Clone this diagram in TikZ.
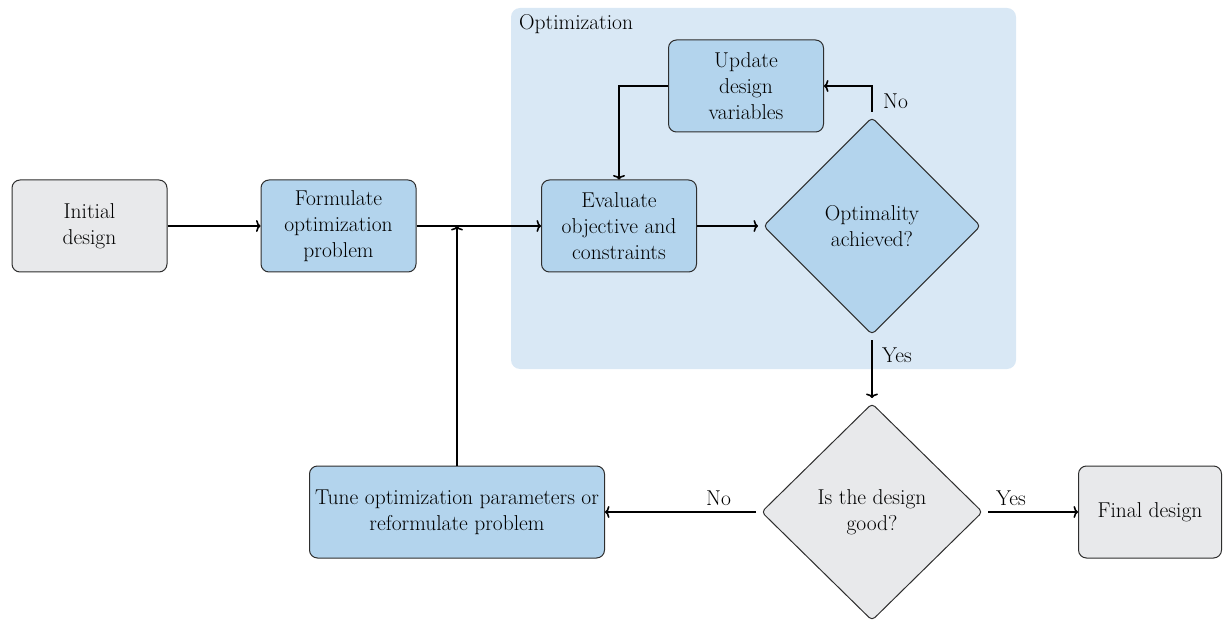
\documentclass[tikz,border=0pt]{standalone}
\usetikzlibrary{shapes.geometric,arrows.meta}

\definecolor{boxgray}{HTML}{E8E9EB}
\definecolor{boxblue}{HTML}{B3D4ED}
\definecolor{optbg}{HTML}{D9E8F5}
\definecolor{edgecol}{HTML}{2E2E2E}

\begin{document}
\begin{tikzpicture}[x=1pt,y=-1pt,
  font=\fontsize{21.5}{26}\selectfont,
  block/.style={draw=edgecol, line width=1pt, rounded corners=8pt, align=center,
    minimum width=155pt, minimum height=92pt, inner sep=3pt},
  grayblock/.style={block, fill=boxgray},
  blueblock/.style={block, fill=boxblue},
  decision/.style={diamond, draw=edgecol, line width=1pt, rounded corners=4pt,
    align=center, minimum width=220pt, minimum height=220pt, inner sep=0pt, outer sep=4pt},
  flow/.style={draw=black, line width=1.6pt, -{To[length=4.5pt,width=12pt]}},
  tag/.style={anchor=base west, inner sep=0pt},
]
\useasboundingbox (0,0) rectangle (1226,620);

% optimization loop region
\node[fill=optbg, rounded corners=9pt, minimum width=505pt, minimum height=361pt, inner sep=0pt]
  (optregion) at (763.5,188.5) {};
\node[tag] (optlabel) at (519,30) {Optimization};

% process blocks
\node[grayblock] (init) at (89.5,226) {Initial\\design};
\node[blueblock] (form) at (338.5,226) {Formulate\\optimization\\problem};
\node[blueblock] (upd) at (746,86) {Update\\design\\variables};
\node[blueblock] (eval) at (619,226) {Evaluate\\objective and\\constraints};
\node[blueblock, minimum width=295pt] (tune) at (457,512)
  {Tune optimization parameters or\\reformulate problem};
\node[grayblock, minimum width=143pt] (final) at (1150,512) {Final design};

% decisions
\node[decision, fill=boxblue] (opt) at (872,226) {Optimality\\achieved?};
\node[decision, fill=boxgray, minimum width=224pt] (good) at (872,512) {Is the design\\good?};

% connectors
\draw[flow] (init) -- (form);
\draw[flow] (form) -- (eval);
\draw[flow] (tune.north) -- (tune.north |- eval.west);
\draw[flow] (eval) -- (opt);
\draw[flow] (opt.north) |- (upd.east);
\draw[flow] (upd.west) -| (eval.north);
\draw[flow] (opt.south) -- (good.north);
\draw[flow] (good.west) -- (tune.east);
\draw[flow] (good.east) -- (final.west);

% branch labels
\node[tag] (nolbl1) at (883,109) {No};
\node[tag] (yeslbl1) at (882,362) {Yes};
\node[tag] (nolbl2) at (706,505) {No};
\node[tag] (yeslbl2) at (996,505) {Yes};
\end{tikzpicture}
\end{document}
